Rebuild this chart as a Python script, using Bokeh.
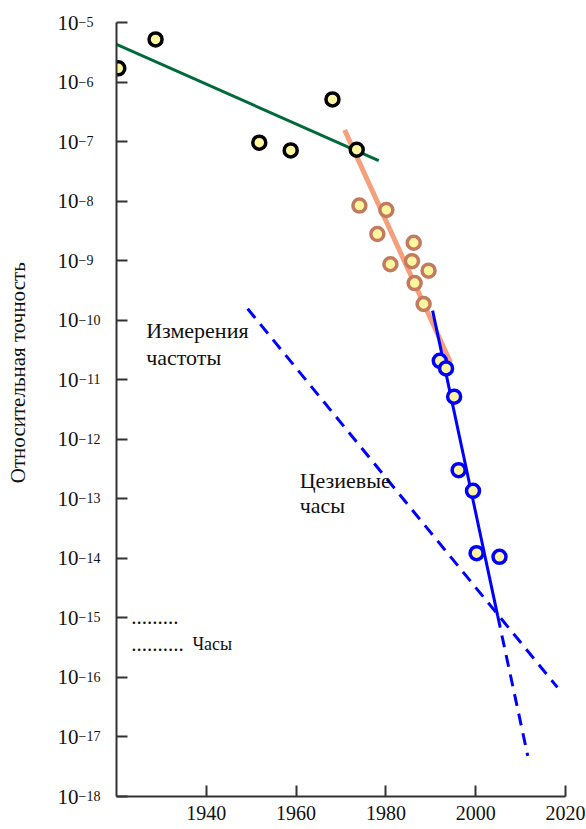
from bokeh.plotting import figure
from bokeh.models import Range1d, Label, FixedTicker, LogAxis
from bokeh.embed import file_html
from bokeh.resources import INLINE

# ---- data ----
early_year = [1920.4, 1928.7, 1951.8, 1958.8, 1968.1, 1973.5]
early_acc = [1.7e-6, 5.2e-6, 9.6e-8, 7.1e-8, 5.1e-7, 7.3e-8]

mid_year = [1974.1, 1980.1, 1978.1, 1986.2, 1981.0, 1985.8, 1989.5, 1986.4, 1988.4]
mid_acc = [8.4e-9, 7.1e-9, 2.8e-9, 2.0e-9, 8.7e-10, 9.8e-10, 6.8e-10, 4.2e-10, 1.87e-10]

late_year = [1992.0, 1993.4, 1995.2, 1996.2, 1999.4, 2000.2, 2005.3]
late_acc = [2.08e-11, 1.55e-11, 5.2e-12, 3.03e-13, 1.36e-13, 1.22e-14, 1.06e-14]

green_year = [1920.0, 1978.4]
green_acc = [4.3e-6, 4.8e-8]

orange_year = [1970.8, 1994.4]
orange_acc = [1.57e-7, 1.95e-11]

blue_year = [1990.4, 2004.9]
blue_acc = [1.45e-10, 1.08e-15]

blue_ext_year = [2004.9, 2011.6]
blue_ext_acc = [1.08e-15, 4.8e-18]

cesium_year = [1949.2, 2018.2]
cesium_acc = [1.56e-10, 6.8e-17]

x_ticks = [1940, 1960, 1980, 2000, 2020]
y_exponents = list(range(-18, -4))
y_ticks = [10.0 ** e for e in y_exponents]
# exponents; one-digit ones padded so that they sit right after the "10"
y_exp_labels = {10.0 ** e: "\u2212" + str(-e) + ("" if e <= -10 else "\u00a0\u00a0")
                for e in y_exponents}
y_base_labels = {10.0 ** e: "10" for e in y_exponents}
y_title = "Относительная точность"

FONT = "Liberation Serif"
YELLOW = "#fff7a0"
AX = "#333333"

p = figure(width=586, height=829, x_range=Range1d(1920, 2020),
           y_range=Range1d(1e-18, 1e-5), y_axis_type="log",
           output_backend="svg", toolbar_location=None,
           min_border_left=116, min_border_right=21,
           min_border_top=22, min_border_bottom=33)
p.grid.visible = False
p.outline_line_color = None

# x axis
xa = p.xaxis[0]
xa.ticker = FixedTicker(ticks=x_ticks)
xa.major_label_standoff = 9
xa.major_label_text_font_size = "20px"

# y axis (ticks + exponents)
ya = p.yaxis[0]
ya.ticker = FixedTicker(ticks=y_ticks)
ya.major_label_overrides = y_exp_labels
ya.major_label_text_font_size = "14px"
ya.major_label_text_baseline = "alphabetic"
ya.major_label_standoff = 16

for ax in (xa, ya):
    ax.axis_line_width = 2
    ax.axis_line_color = AX
    ax.major_tick_line_color = AX
    ax.major_tick_line_width = 2
    ax.major_tick_in = 11
    ax.major_tick_out = 0
    ax.minor_tick_line_color = None
    ax.major_label_text_font = FONT
    ax.major_label_text_color = "#111111"

# second left axis carrying the "10" bases of the tick labels and the title
yb = LogAxis(ticker=FixedTicker(ticks=y_ticks), major_label_overrides=y_base_labels,
             axis_line_color=None, major_tick_line_color=None, minor_tick_line_color=None,
             major_label_text_font=FONT, major_label_text_font_size="21px",
             major_label_text_color="#111111", major_label_standoff=-9,
             axis_label="\u00a0" * 14 + y_title, axis_label_standoff=25,
             axis_label_text_font=FONT, axis_label_text_font_size="21px",
             axis_label_text_font_style="normal", axis_label_text_color="#111111")
p.add_layout(yb, "left")

# lines
p.line(green_year, green_acc, line_color="#006b3a", line_width=3)
p.line(orange_year, orange_acc, line_color="#f4a07c", line_width=5)
p.line(blue_year, blue_acc, line_color="#0000ff", line_width=3)
p.line(blue_ext_year, blue_ext_acc, line_color="#0000ff", line_width=3, line_dash="12 8")
p.line(cesium_year, cesium_acc, line_color="#0000ff", line_width=3, line_dash="12 8")

# points
p.scatter(early_year, early_acc, size=13, fill_color=YELLOW, line_color="black", line_width=3.5)
p.scatter(mid_year, mid_acc, size=13, fill_color=YELLOW, line_color="#c47a5e", line_width=3.5)
p.scatter(late_year, late_acc, size=13, fill_color=YELLOW, line_color="#0000ff", line_width=3.5)

# annotations
texts = [
    ("Измерения", 1926.6, 6.7e-11, "22px"),
    ("частоты", 1926.6, 2.37e-11, "22px"),
    ("Цезиевые", 1960.8, 2.0e-13, "22px"),
    ("часы", 1960.8, 7.6e-14, "22px"),
    (".........", 1923.3, 1.04e-15, "21px"),
    ("..........", 1923.3, 3.6e-16, "21px"),
    ("Часы", 1936.9, 3.6e-16, "18px"),
]
for t, x, y, fs in texts:
    p.add_layout(Label(x=x, y=y, text=t, text_font=FONT, text_font_size=fs,
                       text_color="#111111", text_baseline="alphabetic", text_align="left"))

open("out.html", "w").write(file_html(p, INLINE))
